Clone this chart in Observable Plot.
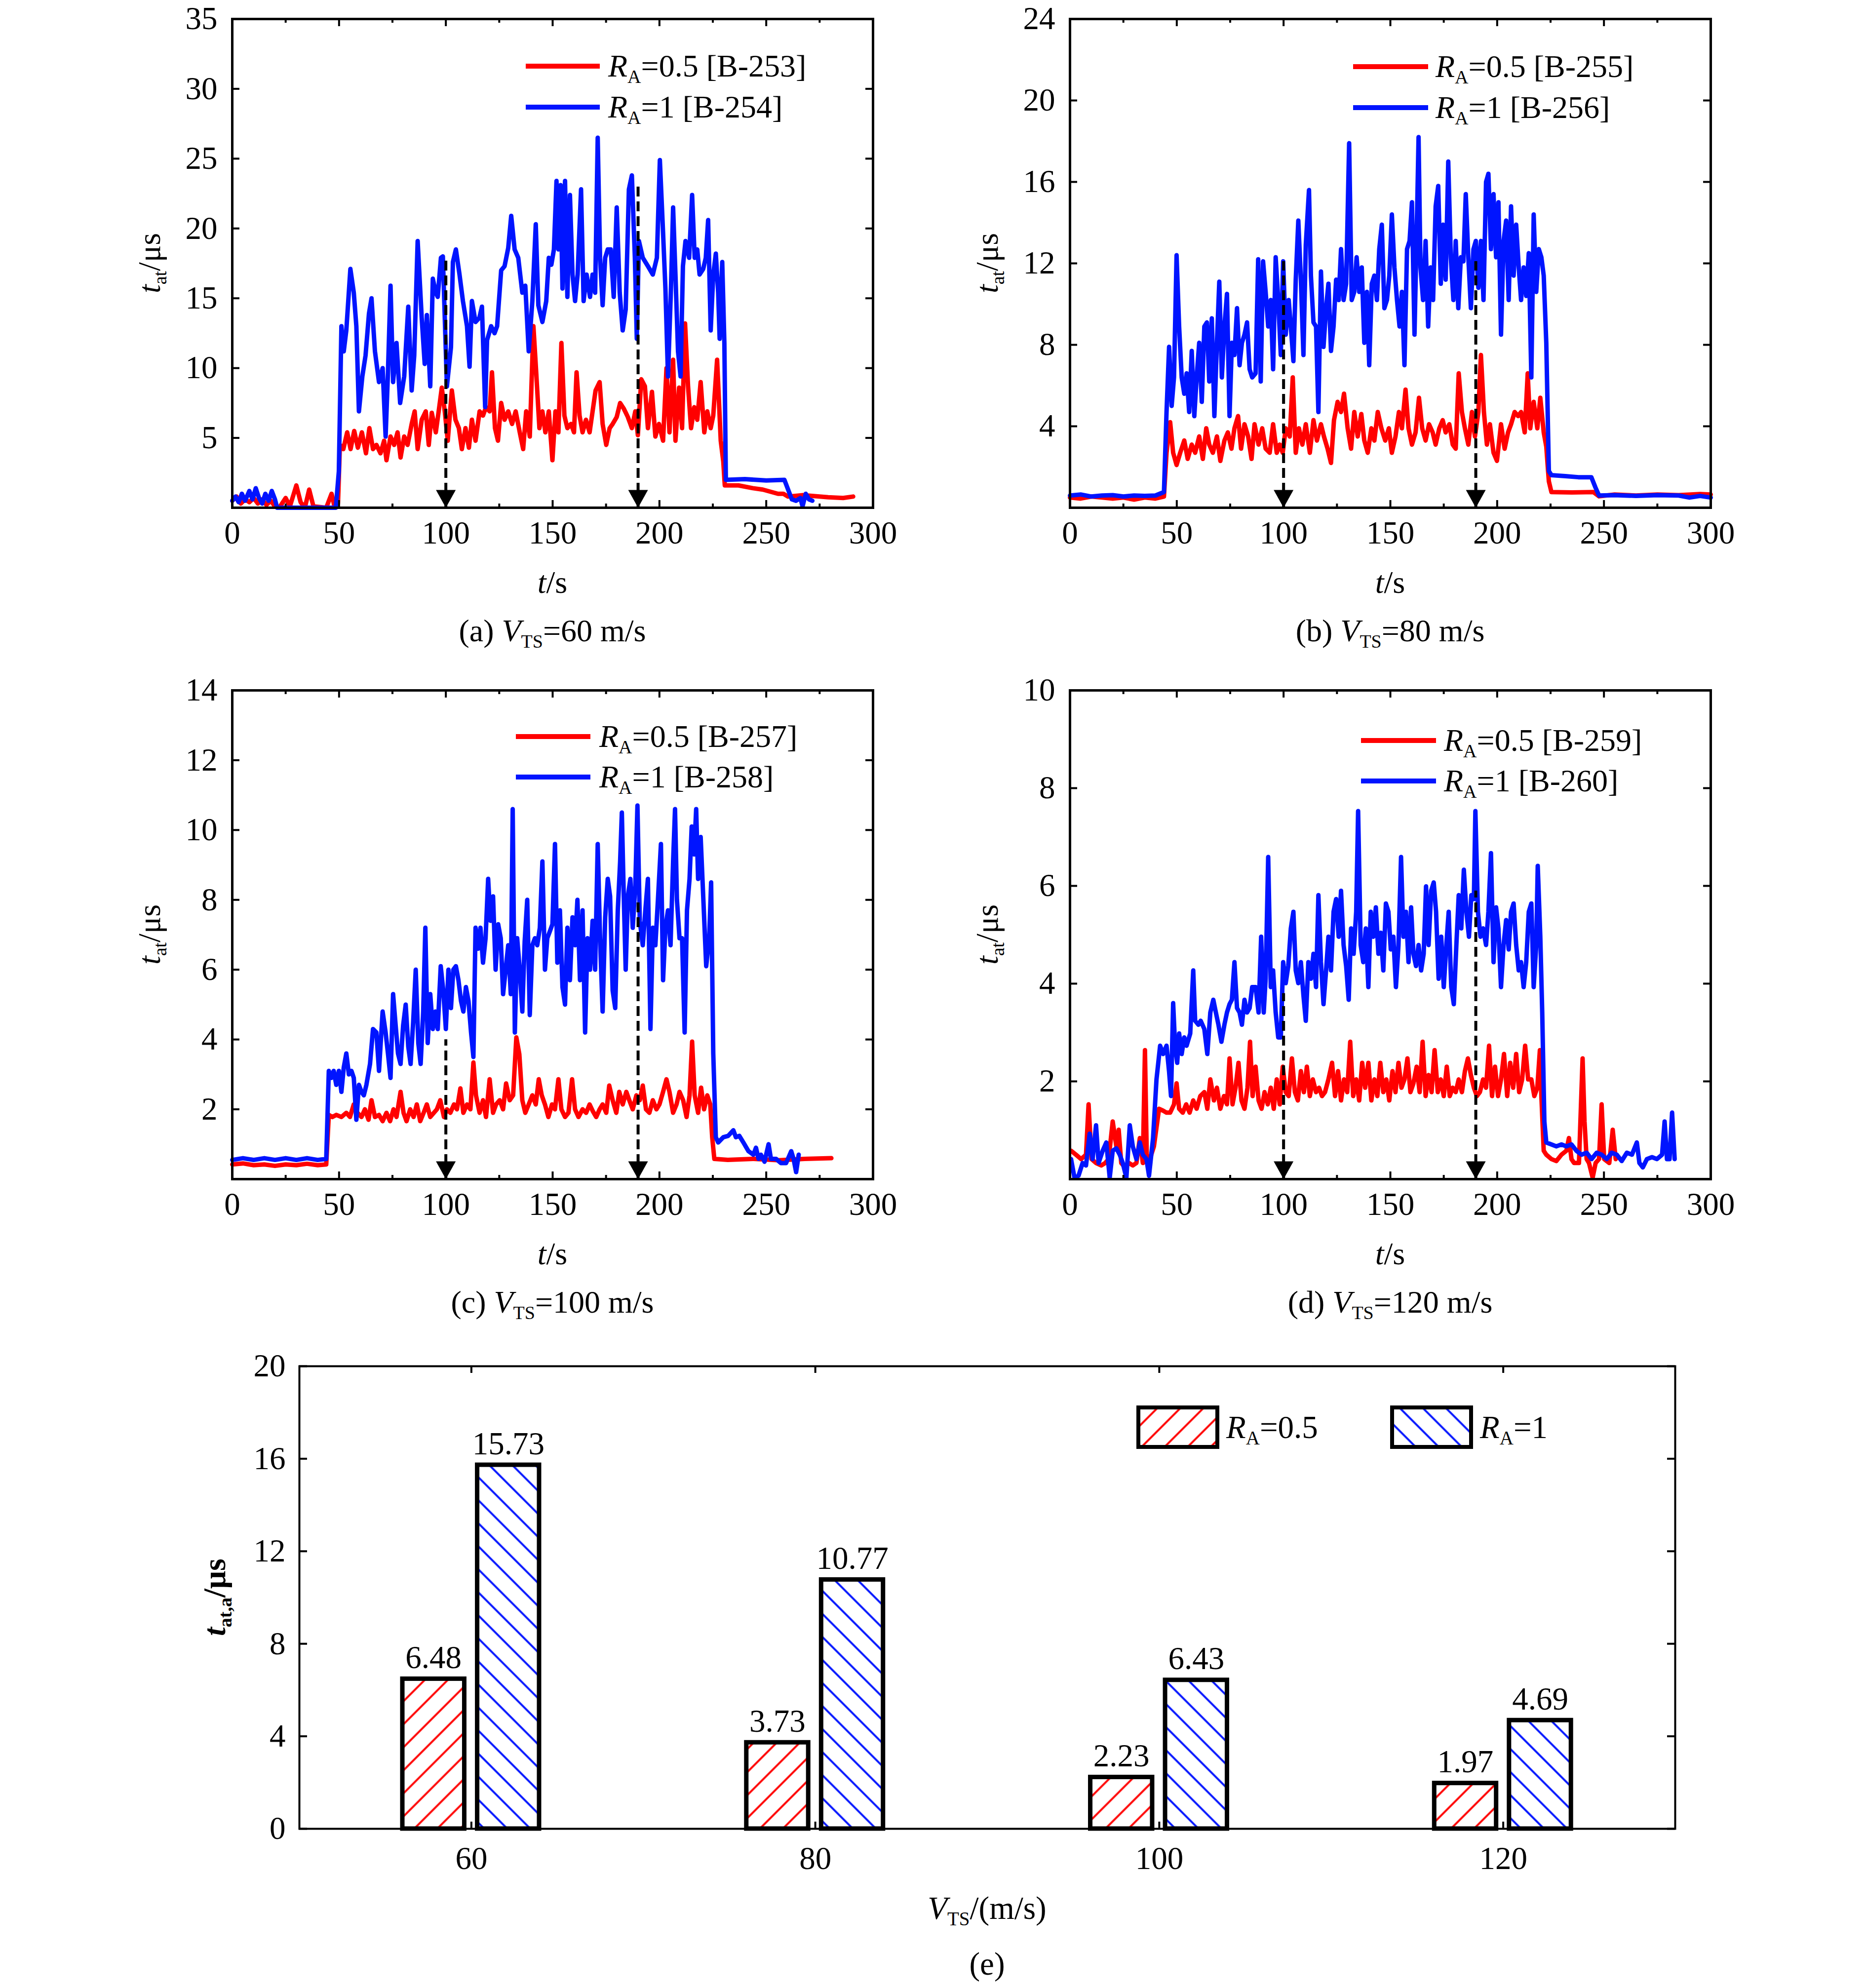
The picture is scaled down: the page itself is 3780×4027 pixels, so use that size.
<!DOCTYPE html>
<html><head><meta charset="utf-8">
<script src="https://cdn.jsdelivr.net/npm/d3@7"></script>
<script src="https://cdn.jsdelivr.net/npm/@observablehq/plot@0.6"></script>
<style>
html,body{margin:0;padding:0;background:#fff;}
#root{position:relative;width:3780px;height:4027px;overflow:hidden;background:#fff;}
#root svg{position:absolute;}
</style></head><body><div id="root"></div>
<script>
// ---------------- DATA ----------------
const xTicksLine = [0,50,100,150,200,250,300];
const xMinorLine = [25,75,125,175,225,275];
const yTicksA = [5,10,15,20,25,30,35];
const yTicksB = [4,8,12,16,20,24];
const yTicksC = [2,4,6,8,10,12,14];
const yTicksD = [2,4,6,8,10];
const arrowTimes = [100,190];
const arrowTopA = [17.8,23.0];
const arrowTopB = [12.1,12.1];
const arrowTopC = [4.0,8.0];
const arrowTopD = [3.8,5.9];
const tagsRed = ["[B-253]","[B-255]","[B-257]","[B-259]"];
const tagsBlue = ["[B-254]","[B-256]","[B-258]","[B-260]"];
const vtsLabels = ["60","80","100","120"];
const panelLetters = ["(a)","(b)","(c)","(d)"];

const redA = [[0,0.5],[2,0.8],[4,0.3],[6,0.6],[8,0.4],[10,0.7],[12,0.3],[14,0.6],[16,0.2],[18,0.5],[20,0.1],[22,0],[25,0.7],[27,0.1],[30,1.6],[32,0.4],[34,0],[36,1.3],[38,0.1],[44,0],[46.5,1.0],[48,0],[49.5,0.3],
[50.4,4.5],[52,4.2],[53.8,5.4],[55.4,4.2],[57.1,5.5],[58.8,4.3],[60.7,5.4],[62.6,3.9],[64.2,5.7],[65.9,4.2],[67.5,4.5],[69.4,3.9],[71.1,4.8],[72.2,3.4],[74.1,5.1],[75.8,4.5],[77.4,5.4],[78.8,3.6],[80.5,5.1],[82.1,4.5],[84.0,6.0],[85.4,6.9],[86.8,4.2],[88.7,6.3],[90.6,6.9],[92.0,4.5],[93.4,6.8],[95.3,5.4],[96.9,7.2],[98.1,8.6],[99.5,6.9],[100.9,4.8],[102.8,8.4],[104.5,6.3],[106.1,5.7],[107.5,4.2],[109.2,5.7],[110.8,4.3],[112.2,6.3],[113.9,4.8],[115.8,6.9],[117.4,6.6],[118.8,7.2],[120.5,6.9],[121.6,9.7],[123.0,5.7],[124.4,4.8],[125.9,7.5],[127.5,6.3],[129.2,6.9],[131.0,6.0],[132.7,6.9],[134.6,5.4],[136.2,4.2],[137.6,6.9],[139.3,5.1],[141.0,13.0],[142.3,9.7],[143.8,5.7],[145.2,6.9],[146.6,5.4],[148.2,6.9],[149.9,3.4],[151.3,6.9],[152.7,5.4],[154.1,11.8],[155.5,6.6],[156.9,5.7],[158.6,6.0],[160.0,5.4],[161.2,9.7],[162.6,6.6],[164.0,5.4],[165.6,6.3],[167.3,5.4],[168.7,6.9],[170.1,8.4],[172.0,9.0],[173.4,6.0],[175.1,4.5],[176.7,5.7],[178.1,6.0],[180.0,6.5],[181.6,7.5],[183.3,7.1],[185.2,6.5],[187.1,5.7],[188.7,6.9],[189.9,5.2],[191.5,9.2],[193.2,8.7],[194.6,5.7],[196.5,8.3],[198.1,5.1],[199.8,6.0],[201.7,4.8],[203.3,10.0],[204.7,5.4],[206.4,10.6],[207.5,4.8],[209.2,8.6],[210.6,5.7],[212.0,13.2],[213.4,8.7],[214.8,5.7],[216.3,7.2],[217.7,6.3],[219.3,9.0],[221.0,5.4],[222.4,6.9],[224.0,5.7],[225.2,6.6],[227.0,10.6],[228.7,4.8],[229.9,3.3],[230.6,1.6],[237,1.6],[243.7,1.4],[248.4,1.3],[255.5,1.0],[258,1.0],[260.2,0.8],[267.2,0.9],[279,0.75],[286,0.7],[290.7,0.8]];

const blueA = [[0,0.5],[1.5,0.8],[3,0.4],[4.5,1.0],[6,0.5],[8,1.2],[9.5,0.6],[11,1.4],[12.5,0.7],[14,0.3],[15.5,1.0],[17,0.5],[18.5,1.2],[20,0.6],[21,0],[48.5,0],[49.9,2.6],
[51.1,13.0],[52.2,11.2],[53.4,12.7],[55.3,17.1],[56.9,15.4],[58.1,13.0],[59.3,6.9],[60.9,9.4],[62.4,10.9],[64.0,13.9],[65.2,15.0],[66.8,11.2],[68.7,9.0],[70.4,10.0],[71.8,5.1],[72.9,9.7],[74.1,15.9],[75.3,9.0],[76.9,11.8],[78.6,7.5],[80.5,9.4],[82.4,14.4],[84.0,8.4],[85.2,10.9],[86.8,19.1],[88.7,13.6],[90.1,10.3],[91.1,13.8],[92.7,8.7],[93.9,16.4],[95.3,15.4],[96.2,15.1],[97.7,17.9],[98.6,18.0],[100.5,8.7],[102.4,11.5],[103.3,17.6],[104.7,18.5],[106.4,16.7],[108.0,14.8],[109.9,13.0],[111.1,10.1],[112.2,14.8],[113.9,13.3],[115.7,13.6],[116.9,14.4],[118.4,7.2],[119.3,12.0],[121.2,13.0],[122.8,12.5],[124.0,13.0],[125.9,17.0],[127.5,17.3],[129.2,18.6],[130.6,20.9],[132.2,18.5],[133.9,17.9],[135.8,15.4],[137.2,15.9],[138.8,11.2],[140.5,14.8],[142.1,20.3],[143.3,14.5],[145.2,13.3],[147.0,14.8],[148.2,17.9],[149.4,17.4],[150.6,18.5],[151.8,23.4],[152.7,18.5],[153.7,23.1],[154.6,15.7],[155.8,23.4],[156.9,15.1],[158.1,22.4],[159.3,16.7],[160.5,14.8],[161.7,16.7],[163.3,22.8],[164.5,14.8],[165.9,16.7],[167.5,15.1],[168.7,16.7],[169.9,15.4],[171.1,26.5],[172.2,17.9],[173.4,14.5],[174.6,17.9],[175.8,18.5],[177.2,18.5],[178.6,15.1],[180.0,21.5],[181.4,15.4],[182.8,12.7],[184.2,14.2],[185.7,22.8],[187.1,23.8],[188.5,17.9],[189.4,12.1],[190.4,19.1],[192.2,17.9],[194.6,17.3],[196.9,16.7],[198.8,17.9],[200.2,24.9],[201.7,19.7],[202.8,15.7],[204.0,9.4],[205.4,15.7],[206.4,21.5],[207.5,16.7],[208.7,11.2],[209.9,9.4],[211.0,17.3],[212.2,19.1],[213.9,17.9],[215.3,22.4],[216.5,17.9],[217.7,18.5],[218.8,16.7],[220.5,17.1],[221.7,17.9],[222.8,20.6],[224.0,12.7],[225.2,16.7],[226.4,18.2],[227.5,15.4],[228.2,12.1],[229.4,17.6],[230.4,11.8],[231.1,2.0],[240,2.05],[250,1.95],[258.5,2.0],[260.5,1.2],[262,0.6],[264,0.5],[266,0.7],[267,0.1],[268.5,1.0],[270,0.6],[271.6,0.5]];

const redB = [[0,0.5],[5,0.45],[10,0.55],[15,0.5],[20,0.45],[25,0.5],[30,0.4],[35,0.5],[40,0.45],[44,0.55],[45.2,2.7],[46.9,4.2],[48.3,2.7],[49.9,2.1],[51.6,2.7],[53.5,3.3],[55.1,2.4],[57.0,3.1],[58.6,2.7],[60.5,3.5],[62.2,2.4],[63.8,3.9],[65.2,3.1],[66.9,2.7],[68.8,3.5],[70.4,2.3],[72.3,3.3],[73.9,3.7],[75.6,2.9],[77.0,3.9],[78.7,4.5],[80.1,2.9],[81.7,4.1],[83.4,3.5],[85.0,2.4],[86.4,4.1],[88.3,3.1],[90.0,3.9],[91.6,2.9],[93.5,2.7],[95.1,4.1],[96.8,2.7],[98.2,3.1],[99.6,2.7],[101.0,3.9],[102.9,3.5],[104.3,6.4],[105.7,2.7],[107.2,3.9],[108.8,3.1],[110.4,4.1],[112.3,2.7],[114.0,4.3],[115.6,3.3],[117.5,4.1],[118.9,3.5],[120.6,2.9],[122.2,2.2],[123.6,4.3],[125.3,5.2],[126.9,4.7],[128.3,5.6],[130.0,3.9],[131.6,2.9],[133.1,4.7],[134.7,3.5],[136.4,4.6],[137.8,3.3],[139.4,2.7],[141.1,3.9],[142.5,3.3],[144.1,4.7],[145.8,3.9],[147.6,3.3],[149.3,3.9],[150.7,2.7],[152.4,3.5],[154.0,4.7],[155.4,3.9],[157.1,5.8],[158.5,3.9],[160.1,3.1],[161.8,3.7],[163.4,5.4],[164.9,3.9],[166.5,3.3],[168.1,4.1],[169.8,3.7],[171.2,3.1],[172.9,3.9],[174.5,4.3],[175.9,3.7],[177.6,4.1],[179.2,3.1],[180.6,2.9],[182.0,6.6],[183.5,4.7],[184.9,3.9],[186.5,3.1],[188.2,4.7],[189.6,3.5],[191.2,4.7],[192.4,7.5],[193.8,4.7],[195.2,3.1],[196.6,4.1],[198.3,2.7],[199.9,2.3],[201.8,4.1],[203.5,2.9],[205.1,3.7],[206.5,4.1],[208.2,4.7],[209.8,4.5],[211.2,4.7],[212.9,3.7],[214.3,6.6],[215.5,3.9],[217.1,5.2],[218.8,3.9],[220.2,5.4],[221.8,3.7],[223.0,3.0],[224.2,1.3],[225.4,0.77],[235,0.75],[245,0.77],[247.7,0.56],[255,0.65],[265,0.6],[275,0.65],[285,0.62],[295,0.67],[300,0.65]];

const blueB = [[0,0.6],[5,0.65],[10,0.55],[15,0.6],[20,0.62],[25,0.55],[30,0.6],[35,0.58],[40,0.6],[44,0.77],[45.2,4.7],[46.4,7.9],[47.6,5.0],[48.7,6.4],[49.9,12.4],[51.1,8.9],[52.3,6.4],[53.5,5.6],[54.6,6.6],[55.8,4.7],[57.0,7.7],[58.2,4.5],[59.3,6.4],[60.5,8.1],[61.7,5.2],[62.9,8.9],[64.1,9.1],[65.2,6.2],[66.4,9.3],[67.6,4.5],[68.8,8.1],[69.9,11.1],[71.1,6.4],[72.3,8.9],[73.5,10.5],[74.7,4.5],[75.8,8.1],[77.0,7.5],[78.2,9.8],[79.4,7.0],[80.5,8.1],[81.7,8.5],[82.9,9.1],[84.1,6.8],[85.3,6.4],[86.9,6.6],[88.1,12.2],[89.3,6.2],[90.4,12.1],[91.6,10.6],[92.8,8.9],[94.0,10.2],[95.1,6.8],[96.3,12.3],[97.5,10.2],[98.7,7.5],[99.8,12.1],[101.0,8.5],[102.4,10.2],[103.4,8.9],[104.6,7.2],[105.7,11.2],[106.9,14.1],[108.1,11.2],[109.3,7.5],[110.4,12.9],[111.9,15.6],[112.8,11.4],[114.0,9.1],[115.2,8.9],[116.3,4.7],[117.5,11.6],[118.7,7.9],[119.9,9.8],[121.0,11.0],[122.2,7.7],[123.4,8.9],[124.6,11.2],[125.8,10.2],[126.9,12.7],[128.1,10.2],[129.3,11.0],[130.7,17.9],[131.9,10.2],[133.1,10.6],[134.2,12.3],[135.4,10.6],[136.6,11.8],[137.8,8.1],[139.0,10.6],[140.1,7.0],[141.3,11.0],[142.5,11.4],[143.7,10.2],[144.8,12.7],[146.0,13.9],[147.2,9.8],[148.4,10.2],[149.5,11.4],[150.7,14.4],[151.9,11.8],[153.1,10.2],[154.3,8.9],[155.4,10.6],[156.6,7.0],[157.8,12.7],[159.0,13.1],[160.1,15.0],[161.3,8.5],[162.5,14.4],[163.2,18.2],[164.1,11.8],[165.3,10.2],[166.5,13.1],[167.7,8.9],[168.8,11.8],[170.0,10.2],[171.2,14.8],[172.4,15.8],[173.6,11.0],[174.7,13.9],[175.9,11.2],[177.1,17.0],[178.3,12.3],[179.5,10.2],[180.6,13.1],[181.8,9.8],[183.0,12.3],[184.2,12.1],[185.3,15.4],[186.5,12.3],[187.7,9.8],[188.9,12.7],[190.0,13.1],[191.2,10.8],[192.4,13.1],[193.6,10.2],[194.8,16.0],[195.9,16.4],[197.1,12.7],[198.3,15.4],[199.5,12.3],[200.6,15.0],[201.8,8.5],[203.0,13.1],[204.2,14.1],[205.4,10.2],[206.5,14.8],[207.7,11.4],[208.9,13.9],[210.1,11.8],[211.2,10.2],[212.4,11.8],[213.6,10.4],[214.8,12.5],[216.0,6.4],[217.1,14.4],[218.3,10.6],[219.5,12.7],[220.7,12.3],[221.8,11.4],[223.0,8.1],[224.2,1.8],[225.4,1.6],[232,1.55],[238,1.5],[244.1,1.5],[246,1.0],[247.7,0.6],[255,0.62],[265,0.58],[275,0.62],[285,0.6],[290,0.5],[295,0.58],[300,0.5]];

const redC = [[0,0.42],[5,0.45],[10,0.4],[15,0.42],[20,0.38],[25,0.42],[30,0.4],[35,0.44],[40,0.4],[44,0.42],[45.2,1.84],[46.8,1.78],[48.7,1.84],[51.1,1.78],[53.4,1.9],[55.1,1.78],[56.9,2.14],[58.6,1.9],[60.5,1.78],[62.1,2.0],[63.8,1.7],[65.2,2.26],[66.8,1.78],[68.7,1.84],[70.4,1.66],[72.2,1.9],[73.9,1.66],[75.5,2.0],[76.9,1.78],[78.8,2.5],[80.2,1.9],[81.6,1.66],[83.3,2.0],[84.9,1.78],[86.4,2.14],[88.0,1.66],[89.6,1.9],[91.1,2.14],[92.7,1.78],[94.4,1.9],[95.8,2.0],[97.4,2.26],[99.1,1.78],[100.5,2.0],[102.1,1.9],[103.8,2.14],[105.2,2.0],[106.8,2.6],[108.2,1.9],[109.9,2.14],[111.5,2.0],[112.9,3.34],[114.1,2.4],[115.8,1.9],[117.4,2.26],[118.8,1.78],[120.5,2.86],[122.1,1.9],[123.5,2.14],[125.2,2.26],[126.8,2.0],[128.2,2.74],[129.9,2.26],[131.5,2.4],[133.0,4.06],[134.4,3.58],[135.8,2.26],[137.2,1.9],[138.8,2.14],[140.5,2.4],[142.1,2.14],[143.5,2.86],[144.9,2.4],[146.4,2.14],[148.0,1.78],[149.7,2.14],[151.1,2.0],[152.7,2.86],[154.1,2.0],[155.8,1.78],[157.4,1.9],[159.1,2.86],[160.5,2.0],[162.1,1.78],[164.0,2.0],[165.7,1.9],[167.3,2.14],[168.7,1.96],[170.4,1.78],[172.0,2.0],[173.4,2.14],[175.1,1.9],[176.5,2.68],[178.1,2.26],[179.8,1.9],[181.2,2.5],[182.8,2.14],[184.5,2.5],[185.9,2.26],[187.5,2.0],[189.2,2.4],[190.8,2.26],[192.2,2.68],[193.7,2.0],[195.3,1.9],[196.9,2.26],[198.6,2.0],[200.0,2.14],[201.7,2.5],[203.3,2.86],[204.7,2.5],[206.4,1.9],[208.0,2.14],[209.4,2.5],[211.1,2.26],[212.7,1.78],[214.1,2.4],[215.3,3.94],[216.5,2.4],[218.1,1.9],[219.5,2.62],[220.9,2.0],[222.4,2.4],[223.8,2.14],[224.7,1.2],[225.7,0.58],[232,0.55],[244,0.58],[256,0.54],[268,0.58],[280.5,0.6]];

const blueC = [[0,0.55],[5,0.6],[10,0.55],[15,0.6],[20,0.55],[25,0.6],[30,0.55],[35,0.6],[40,0.55],[44,0.58],[45.2,3.1],[46.4,2.9],[47.5,3.1],[48.7,2.7],[49.9,3.1],[51.1,2.5],[52.2,3.2],[53.4,3.6],[54.6,3.0],[55.8,3.1],[56.9,2.9],[58.1,1.7],[59.3,2.7],[60.5,2.5],[61.6,2.4],[62.8,2.7],[64.5,3.3],[65.9,4.3],[67.5,4.2],[68.7,3.1],[70.4,4.8],[71.8,4.2],[72.9,3.6],[74.1,2.9],[75.3,5.3],[76.5,4.4],[77.6,3.6],[78.8,3.3],[80.0,4.4],[81.2,5.0],[82.4,3.8],[83.5,3.3],[84.7,4.5],[85.9,6.0],[87.1,3.9],[88.2,3.3],[89.4,4.8],[90.4,7.2],[91.5,3.9],[92.7,5.3],[93.9,4.3],[95.1,4.8],[96.2,4.3],[97.6,6.1],[98.8,5.4],[100.0,4.3],[101.2,6.0],[102.4,4.9],[103.5,6.0],[104.7,6.1],[105.9,5.7],[107.1,5.1],[108.2,4.8],[109.4,5.5],[110.6,5.1],[111.8,4.2],[112.9,3.5],[113.9,7.2],[115.1,6.6],[116.2,7.2],[117.4,6.2],[118.6,6.9],[119.8,8.6],[120.9,7.4],[122.1,8.1],[123.3,6.0],[124.5,7.3],[125.7,6.9],[126.8,5.3],[128.0,6.0],[129.2,6.7],[130.4,5.3],[131.3,10.6],[132.3,4.2],[133.4,6.9],[134.6,6.0],[135.8,4.8],[136.9,6.8],[138.1,8.0],[139.3,4.7],[140.5,6.7],[141.7,6.9],[142.8,6.7],[144.0,7.2],[145.2,9.1],[146.4,6.0],[147.5,6.9],[148.7,7.1],[149.9,7.3],[151.1,9.6],[152.2,6.2],[153.4,7.7],[154.6,5.5],[155.8,5.0],[156.9,7.2],[158.1,5.7],[159.3,7.5],[160.5,6.7],[161.6,8.0],[162.8,5.7],[164.0,7.7],[165.2,4.2],[166.3,6.9],[167.5,6.0],[168.7,7.4],[169.9,6.0],[171.1,9.6],[172.2,6.9],[173.4,4.8],[174.6,7.5],[175.8,8.6],[176.9,8.1],[178.1,5.4],[179.3,4.9],[180.5,7.7],[181.6,9.1],[182.4,10.5],[183.3,8.1],[184.2,6.0],[185.2,8.1],[186.4,8.6],[187.5,7.2],[188.7,8.4],[189.7,10.7],[190.8,7.4],[192.2,6.7],[193.4,7.7],[194.6,8.6],[195.8,4.3],[196.9,7.2],[198.1,6.7],[199.3,8.0],[200.7,9.6],[201.7,5.7],[202.8,7.2],[204.0,7.7],[205.2,6.7],[206.4,9.1],[207.3,10.6],[208.2,8.0],[209.4,6.9],[210.6,6.9],[211.8,4.2],[212.9,7.7],[214.1,8.6],[215.1,10.1],[216.2,9.3],[217.2,10.6],[218.1,8.6],[219.3,9.8],[220.5,8.1],[221.9,6.1],[223.3,6.9],[224.2,8.5],[225.2,3.6],[226.4,1.2],[227.5,1.05],[229.9,1.2],[232.2,1.24],[234.6,1.4],[235.8,1.2],[237.4,1.24],[239.3,1.05],[241.7,0.8],[244.0,0.7],[245.2,0.9],[246.4,0.58],[247.5,0.7],[249.2,0.5],[251.1,1.0],[252.2,0.58],[254.6,0.58],[256.9,0.46],[259.3,0.46],[261.7,0.8],[262.8,0.58],[264.0,0.2],[265.2,0.7]];

const redD = [[0.5,0.58],[2.8,0.5],[5.2,0.41],[7.5,0.5],[8.7,1.53],[10.1,0.41],[12.2,0.33],[14.6,0.28],[16.5,0.33],[18.1,0.41],[20.0,1.18],[21.7,0.67],[22.8,1.01],[24.0,0.33],[25.7,0.24],[27.6,0.33],[29.4,0.28],[31.1,0.33],[32.7,0.84],[34.1,0.33],[35.1,2.64],[36.0,0.33],[37.4,0.41],[39.3,0.67],[41.7,1.44],[43.6,1.40],[45.2,1.36],[46.9,1.36],[48.7,1.53],[49.9,1.96],[51.1,1.44],[52.8,1.36],[54.4,1.53],[56.0,1.36],[57.7,1.61],[59.3,1.44],[61.0,1.7],[62.9,1.78],[64.3,1.44],[65.7,2.04],[67.4,1.61],[68.8,1.87],[70.4,1.44],[72.1,1.7],[73.5,1.53],[74.7,2.47],[76.1,1.53],[77.5,1.87],[78.9,2.38],[80.3,1.61],[81.7,1.44],[83.1,1.87],[84.3,2.81],[85.5,1.7],[86.9,2.3],[88.3,1.61],[89.7,1.44],[91.1,1.78],[92.6,1.53],[94.0,1.87],[95.4,1.44],[96.8,2.04],[98.2,1.53],[99.6,2.3],[101.0,1.78],[102.4,1.7],[103.9,2.47],[105.3,1.78],[106.7,1.61],[108.1,2.21],[109.5,1.78],[110.9,2.3],[112.3,1.7],[113.7,2.04],[115.2,1.78],[116.6,1.87],[118.0,1.7],[119.4,1.78],[121.0,2.04],[122.7,2.38],[124.1,1.7],[125.5,2.21],[126.9,1.61],[128.3,2.04],[129.8,1.78],[131.2,2.81],[132.6,1.7],[134.0,2.04],[135.4,1.61],[136.8,2.38],[138.2,1.87],[139.7,2.38],[141.1,1.61],[142.5,2.04],[143.9,1.7],[145.3,2.38],[146.7,1.78],[148.1,2.04],[149.5,1.61],[151.0,2.21],[152.4,1.78],[153.8,2.38],[155.2,1.87],[156.6,2.04],[158.0,2.47],[159.4,1.78],[160.8,1.96],[162.3,2.3],[163.7,1.78],[165.1,2.81],[166.5,1.7],[167.9,2.13],[169.3,1.78],[170.7,2.64],[172.2,1.78],[173.6,2.04],[175.0,1.7],[176.4,2.3],[177.8,1.7],[179.2,1.87],[180.6,1.78],[182.0,2.04],[183.5,1.78],[184.9,2.21],[186.3,2.47],[187.7,2.13],[189.1,1.87],[190.5,1.7],[191.9,1.78],[193.4,2.04],[194.8,1.87],[196.2,2.73],[197.6,1.7],[199.0,2.3],[200.4,1.7],[201.8,2.04],[203.2,2.56],[204.7,1.7],[206.1,2.38],[207.5,1.87],[208.9,2.56],[210.3,1.78],[211.7,2.04],[213.1,2.73],[214.5,2.04],[216.0,2.04],[217.4,1.7],[218.8,1.87],[220.0,2.64],[220.7,1.7],[221.8,0.58],[223.0,0.5],[225.4,0.41],[227.7,0.37],[230.1,0.5],[232.4,0.58],[233.6,0.84],[234.8,0.41],[236.0,0.33],[238.3,0.33],[240.0,2.47],[240.9,1.18],[241.9,0.41],[243.0,0.33],[244.7,0.03],[246.1,0.33],[247.7,0.41],[248.9,1.53],[250.1,0.41],[252.5,0.33],[254.1,1.01],[255.5,0.41]];

const blueD = [[0.5,0.41],[2.1,0.03],[4.0,0.07],[5.9,0.33],[7.5,0.28],[9.2,0.93],[10.6,0.41],[12.2,1.1],[13.4,0.33],[15.3,0.58],[17.0,0.75],[18.6,0.03],[20.0,0.58],[21.7,0.63],[23.3,0.5],[24.7,0.33],[26.4,0.03],[28.0,1.1],[29.4,0.67],[31.1,0.41],[32.7,0.75],[34.1,0.5],[35.8,0.41],[37.0,0.07],[38.9,0.84],[40.5,2.04],[42.2,2.73],[43.6,2.56],[45.2,2.73],[46.4,2.2],[47.3,1.7],[48.3,3.6],[49.2,2.73],[50.2,2.38],[51.1,2.98],[52.3,2.56],[53.5,2.9],[54.6,2.73],[56.3,2.98],[57.7,4.27],[58.6,3.24],[60.1,3.16],[61.2,3.24],[62.9,3.07],[64.3,2.56],[65.7,3.41],[67.1,3.67],[68.3,3.41],[69.5,3.16],[70.9,2.81],[72.3,3.16],[73.5,3.41],[74.7,3.58],[75.8,3.67],[77.0,4.44],[78.2,3.5],[79.4,3.41],[80.5,3.16],[81.7,3.67],[82.9,3.41],[84.1,3.5],[85.3,3.93],[86.9,3.93],[88.3,3.41],[89.5,4.96],[90.7,3.41],[91.6,4.1],[92.8,6.59],[94.0,3.93],[95.1,4.27],[96.3,3.41],[97.5,2.9],[98.7,2.9],[99.8,4.44],[101.0,4.01],[102.2,4.36],[103.4,5.13],[104.6,5.47],[105.7,4.27],[106.9,4.01],[108.1,4.44],[109.3,3.76],[110.4,3.24],[111.6,4.44],[112.8,4.1],[114.0,4.61],[115.2,3.93],[116.3,5.81],[117.5,4.44],[118.7,3.58],[119.9,4.27],[121.0,4.96],[122.2,4.27],[123.4,5.47],[124.6,5.73],[125.8,4.96],[126.9,5.9],[128.1,4.79],[129.3,4.36],[130.5,3.67],[131.6,5.13],[132.8,4.61],[134.0,5.47],[134.9,7.53],[136.1,4.79],[137.3,4.44],[138.5,5.13],[139.7,3.93],[140.8,5.47],[142.0,4.96],[143.2,5.56],[144.4,4.61],[145.5,5.04],[146.7,4.27],[147.9,5.64],[149.1,5.47],[150.2,4.7],[151.4,4.96],[152.6,3.93],[153.8,4.79],[155.0,6.59],[156.1,4.96],[157.3,5.47],[158.5,4.44],[159.7,5.56],[160.8,4.61],[162.0,4.36],[163.2,4.79],[164.4,4.27],[165.6,4.61],[166.7,5.99],[167.9,4.79],[169.1,5.9],[170.3,6.07],[171.4,5.47],[172.6,4.1],[173.8,4.96],[175.0,3.93],[176.2,4.79],[177.3,5.47],[178.5,3.93],[179.7,3.58],[180.9,4.79],[182.0,5.81],[183.2,5.13],[184.4,6.33],[185.6,5.47],[186.8,4.96],[187.9,5.81],[189.1,5.73],[189.8,7.53],[191.0,5.47],[192.2,4.96],[193.4,5.13],[194.8,4.79],[195.9,5.47],[197.1,6.67],[198.3,4.44],[199.5,5.56],[200.6,5.13],[201.8,3.93],[203.0,4.79],[204.2,5.3],[205.4,4.7],[206.5,5.47],[207.7,5.64],[208.9,4.79],[210.1,4.27],[211.2,4.44],[212.4,3.93],[213.6,4.44],[214.8,5.47],[216.0,5.64],[217.1,3.93],[218.3,4.79],[219.0,6.41],[220.2,4.96],[221.1,3.41],[222.1,1.18],[223.0,0.75],[225.4,0.71],[227.7,0.67],[230.1,0.71],[232.4,0.67],[234.8,0.71],[237.1,0.58],[239.5,0.5],[241.9,0.54],[244.2,0.41],[246.6,0.54],[248.9,0.5],[251.3,0.41],[253.6,0.54],[256.0,0.5],[258.3,0.37],[260.7,0.54],[263.1,0.5],[265.4,0.75],[266.6,0.33],[268.2,0.24],[270.1,0.41],[272.5,0.45],[274.8,0.41],[277.2,0.5],[278.4,1.18],[279.5,0.41],[280.7,0.41],[281.9,1.36],[283.1,0.41]];

// bar chart (e)
const vtsCats = [60,80,100,120];
const barRed = [6.48,3.73,2.23,1.97];
const barBlue = [15.73,10.77,6.43,4.69];
const yTicksE = [0,4,8,12,16,20];

// ---------------- DRAWING ----------------
const FONT = "'Liberation Serif','Times New Roman',serif";
const RED = "#ff0000", BLUE = "#0014ff";
const root = document.getElementById("root");

function rich(parent, parts, o) {
  const size = o.size || 65;
  const t = parent.append("text").attr("x", o.x || 0).attr("y", o.y || 0)
    .attr("font-size", size).attr("text-anchor", o.anchor || "middle")
    .attr("font-family", FONT).attr("fill", "black");
  if (o.transform) t.attr("transform", o.transform);
  if (o.weight) t.attr("font-weight", o.weight);
  let shifted = 0;
  for (const p of parts) {
    const s = t.append("tspan").text(p.s);
    if (p.i) s.attr("font-style", "italic");
    if (p.sub) {
      s.attr("font-size", Math.round(size * 0.6));
      const d = Math.round(size * (o.subShift || 0.2));
      s.attr("dy", d - shifted); shifted = d;
    } else if (shifted) { s.attr("dy", -shifted); shifted = 0; }
  }
  return t;
}

const downTriangle = {
  draw(ctx, size) {
    const r = Math.sqrt(size / Math.PI);
    ctx.moveTo(-r, -1.8 * r); ctx.lineTo(r, -1.8 * r); ctx.lineTo(0, 0); ctx.closePath();
  }
};

const intFmt = d => String(d);

const panels = [
  {red: redA, blue: blueA, yMax: 35, yTicks: yTicksA, arrowTop: arrowTopA, left: 0,    top: 6,    W: 1840, H: 1354, mL: 470, mT: 32, leg: [595,745,762,96,179]},
  {red: redB, blue: blueB, yMax: 24, yTicks: yTicksB, arrowTop: arrowTopB, left: 1840, top: 6,    W: 1940, H: 1354, mL: 327, mT: 32, leg: [574,726,741,97,180]},
  {red: redC, blue: blueC, yMax: 14, yTicks: yTicksC, arrowTop: arrowTopC, left: 0,    top: 1360, W: 1840, H: 1340, mL: 470, mT: 38, leg: [575,726,744,94,176]},
  {red: redD, blue: blueD, yMax: 10, yTicks: yTicksD, arrowTop: arrowTopD, left: 1840, top: 1360, W: 1940, H: 1340, mL: 327, mT: 38, leg: [590,742,758,102,184]}
];

panels.forEach((p, k) => {
  const iW = 1298, iH = 990;
  const arrows = arrowTimes.map((t, i) => ({t, top: p.arrowTop[i]}));
  const svg = Plot.plot({
    width: p.W, height: p.H,
    marginLeft: p.mL, marginRight: p.W - p.mL - iW, marginTop: p.mT, marginBottom: p.H - p.mT - iH,
    x: {domain: [0, 300]}, y: {domain: [0, p.yMax]},
    style: {background: "transparent", fontFamily: FONT, fontSize: "65px", color: "black", overflow: "visible"},
    marks: [
      Plot.line(p.red, {x: d => d[0], y: d => d[1], stroke: RED, strokeWidth: 9, strokeLinejoin: "round", strokeLinecap: "round"}),
      Plot.line(p.blue, {x: d => d[0], y: d => d[1], stroke: BLUE, strokeWidth: 9, strokeLinejoin: "round", strokeLinecap: "round"}),
      Plot.ruleX(arrows, {x: "t", y1: 0, y2: "top", stroke: "black", strokeWidth: 6, strokeDasharray: "20,10"}),
      Plot.dot(arrows, {x: "t", y: 0, r: 20, symbol: downTriangle, fill: "black"}),
      Plot.frame({stroke: "black", strokeWidth: 5}),
      Plot.tickX(xTicksLine, {x: d => d, insetTop: iH - 15, strokeWidth: 4}),
      Plot.tickX(xTicksLine, {x: d => d, insetBottom: iH - 15, strokeWidth: 4}),
      Plot.tickX(xMinorLine, {x: d => d, insetTop: iH - 8, strokeWidth: 4}),
      Plot.tickX(xMinorLine, {x: d => d, insetBottom: iH - 8, strokeWidth: 4}),
      Plot.tickY(p.yTicks, {y: d => d, insetRight: iW - 15, strokeWidth: 4}),
      Plot.tickY(p.yTicks, {y: d => d, insetLeft: iW - 15, strokeWidth: 4}),
      Plot.axisX(xTicksLine, {tickSize: 0, tickPadding: 26, label: null, fontSize: 65, tickFormat: intFmt}),
      Plot.axisY(p.yTicks, {tickSize: 0, tickPadding: 30, label: null, fontSize: 65, tickFormat: intFmt})
    ]
  });
  svg.style.left = p.left + "px"; svg.style.top = p.top + "px";
  root.appendChild(svg);
  const g = d3.select(svg);
  const fx = p.mL, fy = p.mT, L = p.leg;
  // legend
  [[RED, L[3], "0.5", tagsRed[k]], [BLUE, L[4], "1", tagsBlue[k]]].forEach(([c, yy, ra, tag]) => {
    g.append("line").attr("x1", fx + L[0]).attr("x2", fx + L[1]).attr("y1", fy + yy).attr("y2", fy + yy)
      .attr("stroke", c).attr("stroke-width", 10);
    rich(g, [{s: "R", i: true}, {s: "A", sub: true}, {s: "=" + ra + " " + tag}], {x: fx + L[2], y: fy + yy + 21, anchor: "start", size: 64});
  });
  // axis titles
  rich(g, [{s: "t", i: true}, {s: "at", sub: true}, {s: "/μs"}], {x: 0, y: 0, size: 64, transform: `translate(${fx - 146},${fy + iH / 2}) rotate(-90)`});
  rich(g, [{s: "t", i: true}, {s: "/s"}], {x: fx + iW / 2, y: fy + iH + 173, size: 64});
  rich(g, [{s: panelLetters[k] + " "}, {s: "V", i: true}, {s: "TS", sub: true}, {s: "=" + vtsLabels[k] + " m/s"}], {x: fx + iW / 2, y: fy + iH + 271, size: 64});
});

// ---- panel (e) ----
(function () {
  const W = 3780, H = 1327, mL = 606, mT = 67, iW = 2787, iH = 937;
  const redBars = vtsCats.map((v, i) => ({v, val: barRed[i]}));
  const blueBars = vtsCats.map((v, i) => ({v, val: barBlue[i]}));
  const svg = Plot.plot({
    width: W, height: H, marginLeft: mL, marginRight: W - mL - iW, marginTop: mT, marginBottom: H - mT - iH,
    x: {domain: [50, 130]}, y: {domain: [0, 20]},
    style: {background: "transparent", fontFamily: FONT, fontSize: "65px", color: "black", overflow: "visible"},
    marks: [
      Plot.rect(redBars, {x1: d => d.v - 4, x2: d => d.v - 0.4, y1: 0, y2: "val", fill: "url(#hatchR)", stroke: "black", strokeWidth: 9}),
      Plot.rect(blueBars, {x1: d => d.v + 0.35, x2: d => d.v + 3.95, y1: 0, y2: "val", fill: "url(#hatchB)", stroke: "black", strokeWidth: 9}),
      Plot.text(redBars, {x: d => d.v - 2.2, y: "val", text: d => d.val.toFixed(2), dy: -22, lineAnchor: "bottom", fontSize: 65, fill: "black"}),
      Plot.text(blueBars, {x: d => d.v + 2.15, y: "val", text: d => d.val.toFixed(2), dy: -22, lineAnchor: "bottom", fontSize: 65, fill: "black"}),
      Plot.frame({stroke: "black", strokeWidth: 4}),
      Plot.tickX(vtsCats, {x: d => d, insetTop: iH - 14, strokeWidth: 4}),
      Plot.tickX(vtsCats, {x: d => d, insetBottom: iH - 14, strokeWidth: 4}),
      Plot.tickY(yTicksE, {y: d => d, insetRight: iW - 16, strokeWidth: 4}),
      Plot.tickY(yTicksE, {y: d => d, insetLeft: iW - 16, strokeWidth: 4}),
      Plot.axisX(vtsCats, {tickSize: 0, tickPadding: 35, label: null, fontSize: 65, tickFormat: intFmt}),
      Plot.axisY(yTicksE, {tickSize: 0, tickPadding: 28, label: null, fontSize: 65, tickFormat: intFmt})
    ]
  });
  svg.style.left = "0px"; svg.style.top = "2700px";
  root.appendChild(svg);
  const g = d3.select(svg);
  const defs = g.insert("defs", ":first-child");
  [["hatchR", RED, -45], ["hatchB", BLUE, 45]].forEach(([id, c, ang]) => {
    const pat = defs.append("pattern").attr("id", id).attr("patternUnits", "userSpaceOnUse")
      .attr("width", 33).attr("height", 33).attr("patternTransform", `rotate(${ang})`);
    pat.append("rect").attr("width", 33).attr("height", 33).attr("fill", "white");
    pat.append("line").attr("x1", -1).attr("x2", 34).attr("y1", 16.5).attr("y2", 16.5).attr("stroke", c).attr("stroke-width", 4);
  });
  // legend
  [["hatchR", 1700, 1878, "0.5"], ["hatchB", 2214, 2392, "1"]].forEach(([id, bx, tx, ra]) => {
    g.append("rect").attr("x", mL + bx).attr("y", mT + 84).attr("width", 160).attr("height", 80)
      .attr("fill", `url(#${id})`).attr("stroke", "black").attr("stroke-width", 8);
    rich(g, [{s: "R", i: true}, {s: "A", sub: true}, {s: "=" + ra}], {x: mL + tx, y: mT + 146, anchor: "start", size: 65});
  });
  rich(g, [{s: "t", i: true}, {s: "at,a", sub: true}, {s: "/μs"}], {x: 0, y: 0, size: 64, weight: "bold", transform: `translate(${mL - 150},${mT + iH / 2}) rotate(-90)`});
  rich(g, [{s: "V", i: true}, {s: "TS", sub: true}, {s: "/(m/s)"}], {x: mL + iW / 2, y: mT + iH + 183, size: 65});
  rich(g, [{s: "(e)"}], {x: mL + iW / 2, y: mT + iH + 296, size: 65});
})();
</script></body></html>
